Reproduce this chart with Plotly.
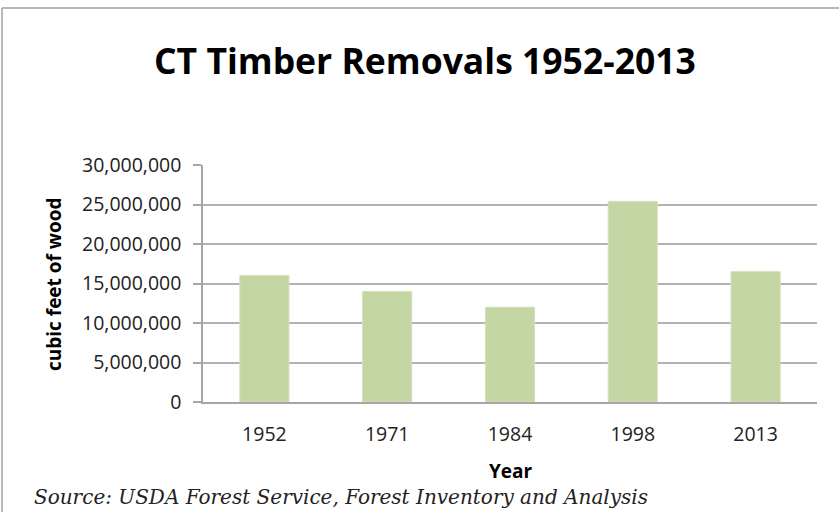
import plotly.graph_objects as go

years = ["1952", "1971", "1984", "1998", "2013"]
removals = [16000000, 14000000, 12000000, 25400000, 16500000]
y_ticks = [0, 5000000, 10000000, 15000000, 20000000, 25000000, 30000000]
y_tick_labels = ["0", "5,000,000", "10,000,000", "15,000,000", "20,000,000", "25,000,000", "30,000,000"]

W, H = 839, 512
L, R, T, B = 203, 22, 165, 110
PW, PH = W - L - R, H - T - B

def px(x):
    return (x - L) / PW

def py(y):
    return (H - B - y) / PH

fig = go.Figure(go.Bar(
    x=years, y=removals,
    marker=dict(color="#c5d6a5", line=dict(color="#d3e0bb", width=1)),
    width=0.4,
))

fig.update_layout(
    width=W, height=H,
    margin=dict(l=L, r=R, t=T, b=B),
    paper_bgcolor="white", plot_bgcolor="white",
    showlegend=False,
    font=dict(family="Open Sans", color="#222222"),
    xaxis=dict(
        showgrid=False, showline=True, linecolor="#a6a6a6", linewidth=1.5,
        ticks="", tickfont=dict(size=19.5, family="Open Sans", color="#222222"),
        ticklabelstandoff=14,
    ),
    yaxis=dict(
        range=[0, 30000000], tickvals=y_ticks, ticktext=y_tick_labels,
        showgrid=True, gridcolor="#b3b3b3", gridwidth=1.5,
        showline=True, linecolor="#a6a6a6", linewidth=1.5,
        ticks="outside", ticklen=8, tickcolor="#a6a6a6", tickwidth=1.5,
        tickfont=dict(size=19.5, family="Open Sans", color="#222222"),
        ticklabelstandoff=8, zeroline=False,
    ),
    shapes=[
        dict(type="line", xref="paper", yref="paper",
             x0=px(2), x1=px(900), y0=py(8), y1=py(8),
             line=dict(color="#a0a0a0", width=1.5)),
        dict(type="line", xref="paper", yref="paper",
             x0=px(2), x1=px(2), y0=py(8), y1=py(600),
             line=dict(color="#a0a0a0", width=1.5)),
    ],
    annotations=[
        dict(text="<b>CT Timber Removals 1952-2013</b>", xref="paper", yref="paper",
             x=px(425), y=py(60), showarrow=False, xanchor="center", yanchor="middle",
             font=dict(size=35.5, family="Open Sans", color="#000000")),
        dict(text="<b>cubic feet of wood</b>", xref="paper", yref="paper",
             x=px(54), y=py(284), showarrow=False, textangle=-90,
             xanchor="center", yanchor="middle",
             font=dict(size=19, family="Open Sans", color="#000000")),
        dict(text="<b>Year</b>", xref="paper", yref="paper",
             x=px(511), y=py(471), showarrow=False, xanchor="center", yanchor="middle",
             font=dict(size=19, family="Open Sans", color="#000000")),
        dict(text="<i>Source: USDA Forest Service, Forest Inventory and Analysis</i>",
             xref="paper", yref="paper",
             x=px(32), y=py(497), showarrow=False, xanchor="left", yanchor="middle",
             font=dict(size=20, family="DejaVu Serif", color="#222222")),
    ],
)

fig.write_html("out.html", config={"displayModeBar": False},
               post_script="document.body.style.margin='0';document.body.style.padding='0';")
